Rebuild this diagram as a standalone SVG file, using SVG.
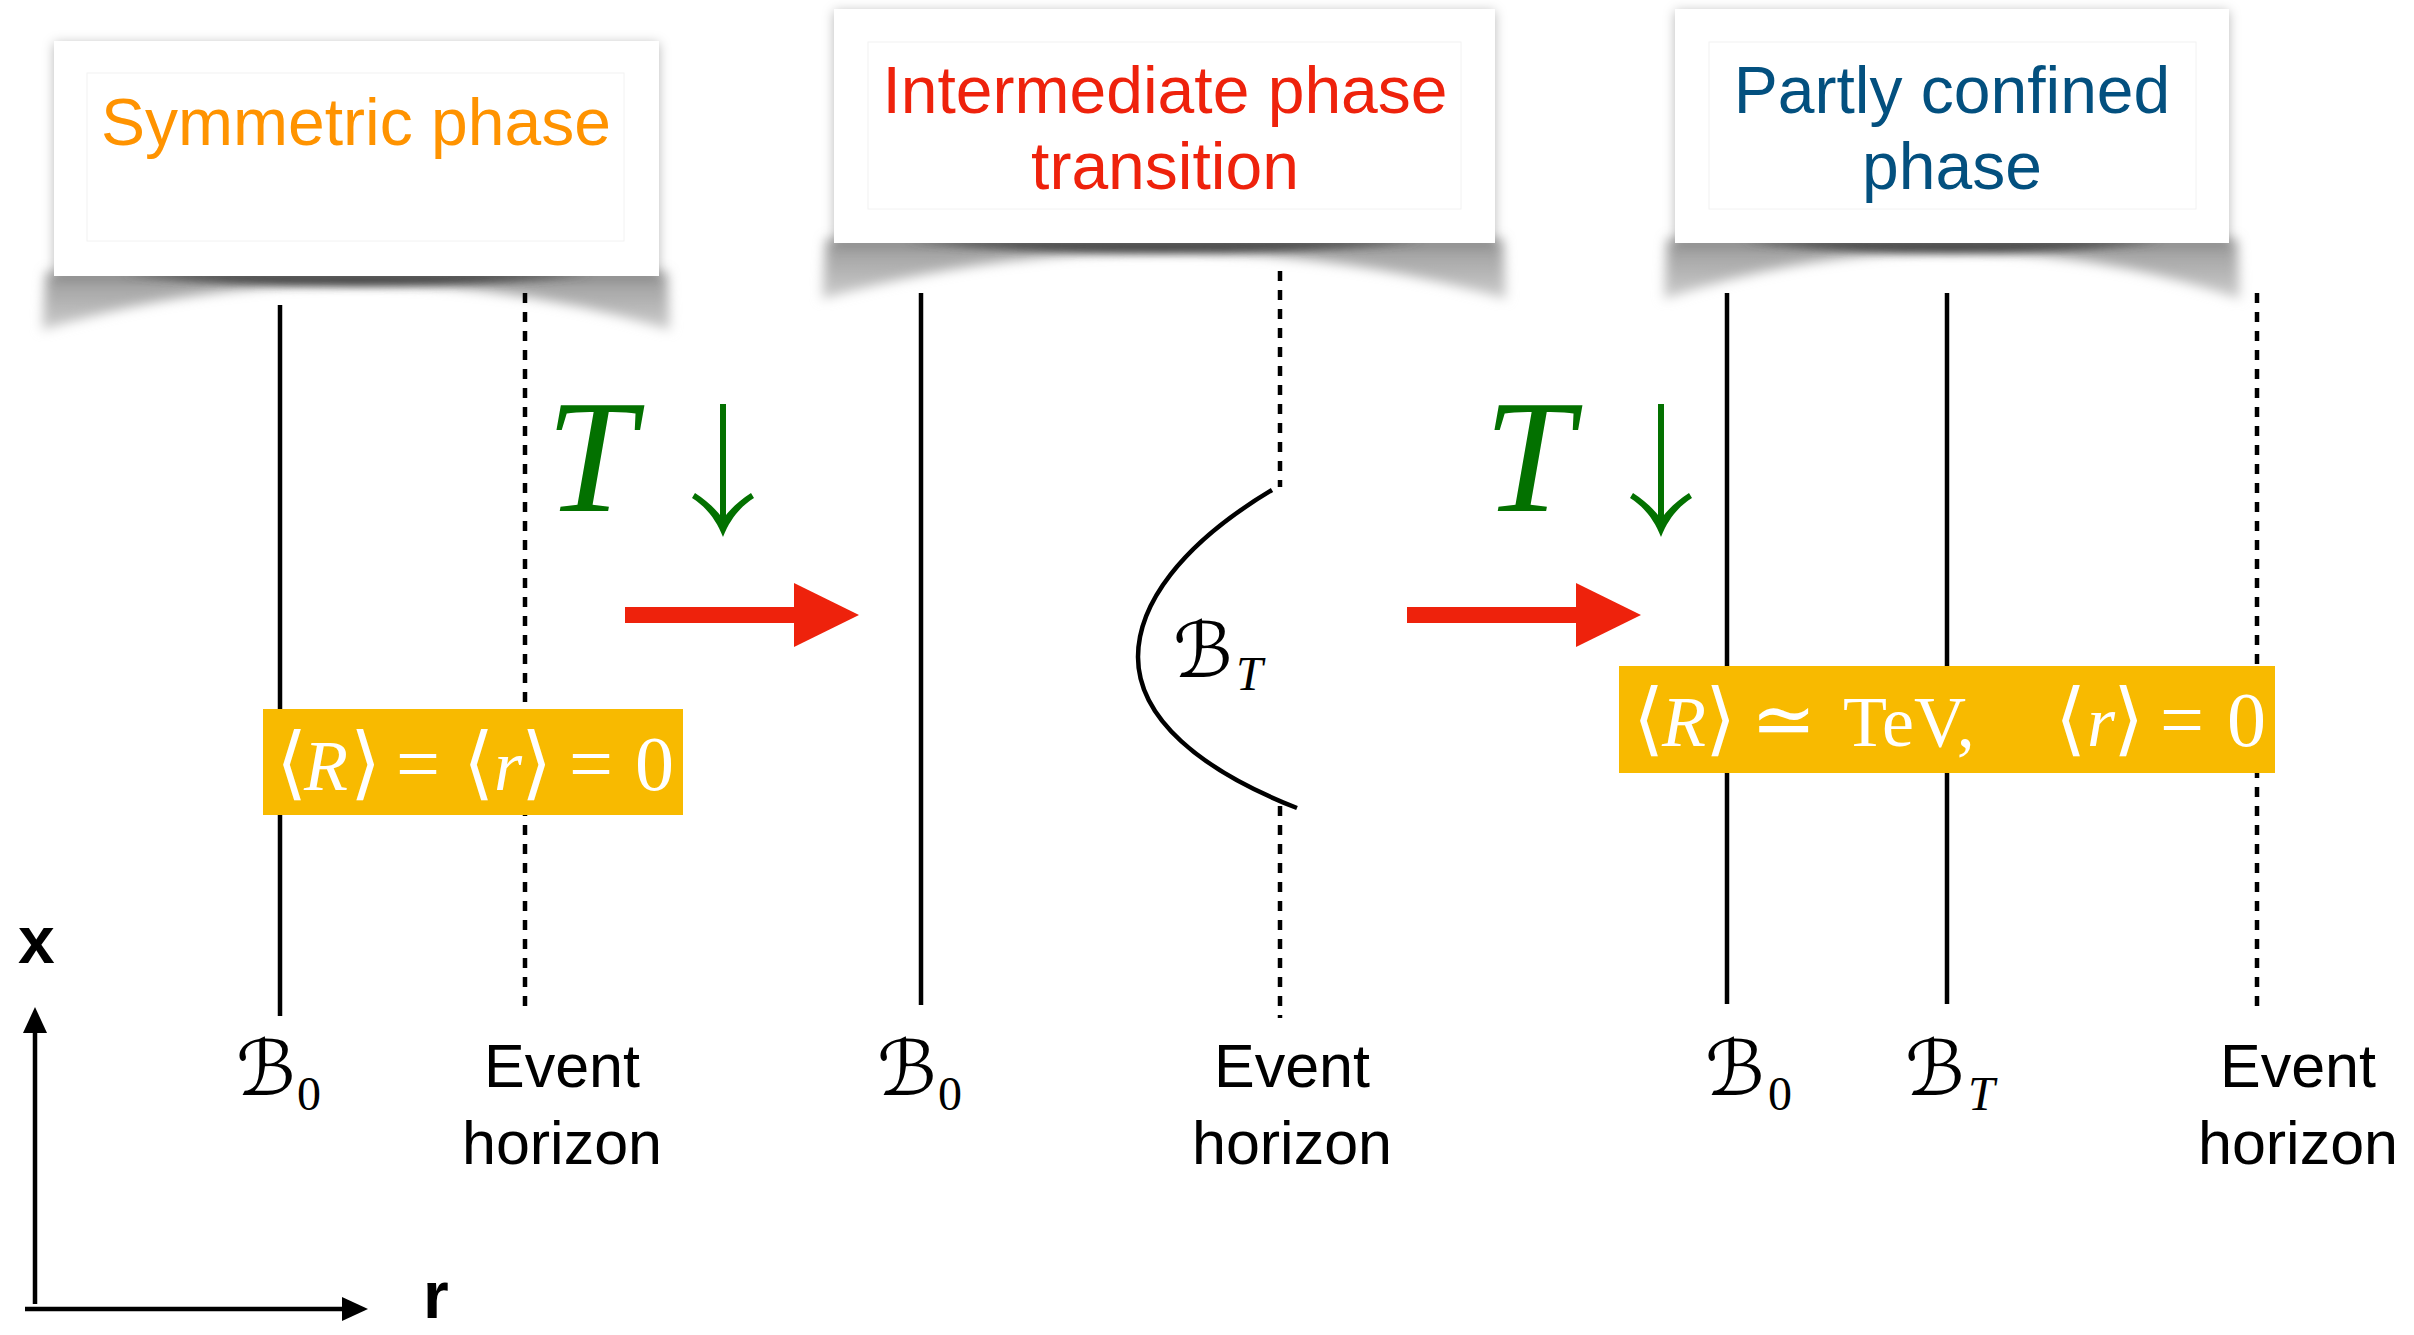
<svg xmlns="http://www.w3.org/2000/svg" width="2414" height="1335" viewBox="0 0 2414 1335">
<style>
.box{fill:#fff;filter:url(#ds)}
.inner{fill:none;stroke:#f2f2f2;stroke-width:1}
.title{font-family:"Liberation Sans",Arial,sans-serif;font-size:66px;text-anchor:middle}
.solid{stroke:#000;stroke-width:4.5;fill:none}
.dash{stroke:#000;stroke-width:4.5;fill:none;stroke-dasharray:10 9}
.lbl{font-family:"Liberation Sans",Arial,sans-serif;font-size:61px;text-anchor:middle;fill:#000}
.scr{font-family:"DejaVu Serif","DejaVu Sans",serif;font-size:76px;font-style:italic;fill:#000}
.sub{font-family:"Liberation Serif","Times New Roman",serif;font-size:48px;fill:#000}
.math{font-family:"Liberation Serif","DejaVu Serif",serif;font-size:72px;fill:#fff}
.br{font-family:"DejaVu Serif",serif;font-size:80px}
.eq{font-size:78px}
.it{font-style:italic}
.bigT{font-family:"Liberation Serif","Times New Roman",serif;font-style:italic;font-size:160px;fill:#037100}
.red{fill:#EE220C}
.axis{stroke:#000;stroke-width:4.5;fill:none}
.axl{font-family:"Liberation Sans",Arial,sans-serif;font-weight:bold;font-size:66px;fill:#000}
.curl{fill:url(#curlg);filter:url(#blur)}
.band{fill:#4a4a4a;filter:url(#blur2)}
</style>
<defs>
<filter id="ds" x="-10%" y="-10%" width="120%" height="130%">
<feDropShadow dx="0" dy="2" stdDeviation="6" flood-color="#000" flood-opacity="0.28"/>
</filter>
<filter id="blur" x="-10%" y="-50%" width="120%" height="200%">
<feGaussianBlur stdDeviation="6"/>
</filter>
<filter id="blur2" x="-10%" y="-100%" width="120%" height="300%">
<feGaussianBlur stdDeviation="4"/>
</filter>
<linearGradient id="curlg" x1="0" y1="0" x2="0" y2="1">
<stop offset="0" stop-color="#999"/>
<stop offset="0.5" stop-color="#b2b2b2"/>
<stop offset="1" stop-color="#cdcdcd"/>
</linearGradient>
</defs>
<rect width="2414" height="1335" fill="#fff"/>

<!-- phase boxes -->
<g id="box-symmetric">
<path class="curl" d="M46,272 L667,272 L670,330 Q356,236 42,330 Z"/>
<path class="band" d="M120,274 L593,274 Q356,298 120,274 Z"/>
<rect class="box" x="54" y="41" width="605" height="235"/>
<rect class="inner" x="87" y="73" width="537" height="168"/>
<text class="title" x="356" y="145" fill="#FF9300">Symmetric phase</text>
</g>
<g id="box-intermediate">
<path class="curl" d="M826,239 L1503,239 L1506,299 Q1164,203 822,299 Z"/>
<path class="band" d="M904,241 L1425,241 Q1164,265 904,241 Z"/>
<rect class="box" x="834" y="9" width="661" height="234"/>
<rect class="inner" x="868" y="42" width="593" height="167"/>
<text class="title" x="1165" y="113" fill="#EE220C">Intermediate phase</text>
<text class="title" x="1165" y="189" fill="#EE220C">transition</text>
</g>
<g id="box-confined">
<path class="curl" d="M1667,239 L2237,239 L2240,299 Q1952,203 1664,299 Z"/>
<path class="band" d="M1740,241 L2164,241 Q1952,265 1740,241 Z"/>
<rect class="box" x="1675" y="9" width="554" height="234"/>
<rect class="inner" x="1709" y="42" width="487" height="167"/>
<text class="title" x="1952" y="113" fill="#03507F">Partly confined</text>
<text class="title" x="1952" y="189" fill="#03507F">phase</text>
</g>

<!-- panel 1 -->
<g id="panel-symmetric">
<line class="solid" x1="280" y1="305" x2="280" y2="1016"/>
<line class="dash" x1="525" y1="293" x2="525" y2="1006"/>
<rect x="263" y="709" width="420" height="106" fill="#F8BA00"/>
<text class="math" y="790"><tspan x="276" class="br">⟨</tspan><tspan x="304" class="it">R</tspan><tspan x="350" class="br">⟩</tspan><tspan x="396" class="eq">=</tspan><tspan x="463" class="br">⟨</tspan><tspan x="494" class="it">r</tspan><tspan x="521" class="br">⟩</tspan><tspan x="569" class="eq">=</tspan><tspan x="635" class="eq">0</tspan></text>
<text class="scr" x="236" y="1095">ℬ</text><text class="sub" x="297" y="1110">0</text>
<text class="lbl" x="562" y="1087">Event</text>
<text class="lbl" x="562" y="1164">horizon</text>
</g>

<!-- panel 2 -->
<g id="panel-intermediate">
<line class="solid" x1="921" y1="293" x2="921" y2="1005"/>
<line class="dash" x1="1280" y1="271" x2="1280" y2="487"/>
<line class="dash" x1="1280" y1="806" x2="1280" y2="1018"/>
<path class="solid" d="M1272,490 C1180,545 1138,605 1138,657 C1138,718 1200,770 1297,808"/>
<text class="scr" x="1173" y="677">ℬ</text><text class="sub it" x="1236" y="690">T</text>
<text class="scr" x="877" y="1095">ℬ</text><text class="sub" x="938" y="1110">0</text>
<text class="lbl" x="1292" y="1087">Event</text>
<text class="lbl" x="1292" y="1164">horizon</text>
</g>

<!-- panel 3 -->
<g id="panel-confined">
<line class="solid" x1="1727" y1="293" x2="1727" y2="1004"/>
<line class="solid" x1="1947" y1="293" x2="1947" y2="1004"/>
<line class="dash" x1="2257" y1="293" x2="2257" y2="1006"/>
<rect x="1619" y="666" width="656" height="107" fill="#F8BA00"/>
<text class="math" y="746"><tspan x="1633" class="br">⟨</tspan><tspan x="1662" class="it">R</tspan><tspan x="1705" class="br">⟩</tspan><tspan x="1751" class="eq">≃</tspan><tspan x="1843">TeV,</tspan><tspan x="2055" class="br">⟨</tspan><tspan x="2087" class="it">r</tspan><tspan x="2113" class="br">⟩</tspan><tspan x="2160" class="eq">=</tspan><tspan x="2227" class="eq">0</tspan></text>
<text class="scr" x="1705" y="1095">ℬ</text><text class="sub" x="1768" y="1110">0</text>
<text class="scr" x="1905" y="1095">ℬ</text><text class="sub it" x="1968" y="1110">T</text>
<text class="lbl" x="2298" y="1087">Event</text>
<text class="lbl" x="2298" y="1164">horizon</text>
</g>

<!-- temperature labels -->
<g id="temp-1">
<text class="bigT" x="546" y="511">T</text>
<line x1="723" y1="404" x2="723" y2="526" stroke="#037100" stroke-width="6"/>
<path d="M723,537 C716,519 705,506 692,498 L695,493 C707,501 716,509 723,519 C730,509 739,501 751,493 L754,498 C741,506 730,519 723,537 Z" fill="#037100"/>
</g>
<g id="temp-2">
<text class="bigT" x="1484" y="511">T</text>
<line x1="1661" y1="404" x2="1661" y2="526" stroke="#037100" stroke-width="6"/>
<path d="M1661,537 C1654,519 1643,506 1630,498 L1633,493 C1645,501 1654,509 1661,519 C1668,509 1677,501 1689,493 L1692,498 C1679,506 1668,519 1661,537 Z" fill="#037100"/>
</g>

<!-- connectors -->
<g id="connectors">
<rect class="red" x="625" y="607" width="172" height="16"/>
<polygon class="red" points="794,583 859,615 794,647"/>
<rect class="red" x="1407" y="607" width="172" height="16"/>
<polygon class="red" points="1576,583 1641,615 1576,647"/>
</g>

<!-- axes -->
<g id="axes">
<line class="axis" x1="35" y1="1304" x2="35" y2="1030"/>
<polygon points="35,1007 23,1033 47,1033" fill="#000"/>
<line class="axis" x1="25" y1="1309" x2="345" y2="1309"/>
<polygon points="368,1309 342,1297 342,1321" fill="#000"/>
<text class="axl" x="18" y="963">x</text>
<text class="axl" x="423" y="1318">r</text>
</g>
</svg>
